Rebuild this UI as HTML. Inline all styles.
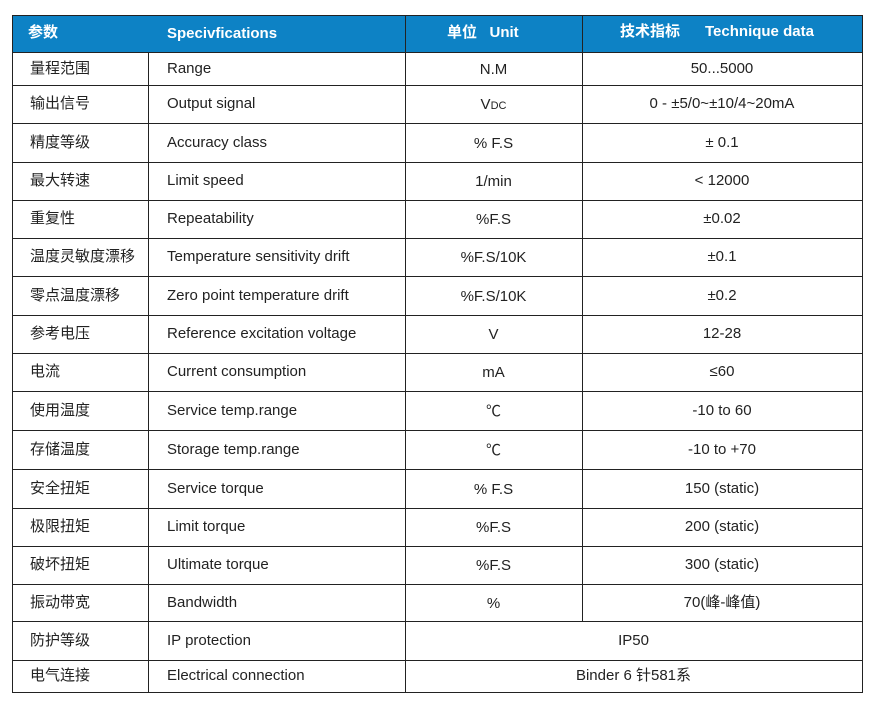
<!DOCTYPE html>
<html><head><meta charset="utf-8"><style>
body{margin:0;width:876px;height:702px;background:#fff;position:relative;font-family:"Liberation Sans","Noto Sans CJK SC",sans-serif;color:#222;font-size:15px;overflow:hidden}
.h{position:absolute;left:12px;top:15px;width:850px;height:37px;background:#0d82c5}
.l{position:absolute;background:#222}
.t{position:absolute;white-space:nowrap;line-height:20px}
.w{color:#fff;font-weight:bold}
.c{text-align:center}
</style></head><body>
<div class="h"></div>
<div id="g"></div>
<script>
var b=[52,85,123,162,200,238,276,315,353,391,430,469,508,546,584,621,660,692];
var rows=[["量程范围","Range","N.M","50...5000"],["输出信号","Output signal","V<span style='font-size:11px'>DC</span>","0 - ±5/0~±10/4~20mA"],["精度等级","Accuracy class","% F.S","± 0.1"],["最大转速","Limit speed","1/min","&lt; 12000"],["重复性","Repeatability","%F.S","±0.02"],["温度灵敏度漂移","Temperature sensitivity drift","%F.S/10K","±0.1"],["零点温度漂移","Zero point temperature drift","%F.S/10K","±0.2"],["参考电压","Reference excitation voltage","V","12-28"],["电流","Current consumption","mA","≤60"],["使用温度","Service temp.range","℃","-10 to 60"],["存储温度","Storage temp.range","℃","-10 to +70"],["安全扭矩","Service torque","% F.S","150 (static)"],["极限扭矩","Limit torque","%F.S","200 (static)"],["破坏扭矩","Ultimate torque","%F.S","300 (static)"],["振动带宽","Bandwidth","%","70(峰-峰值)"],["防护等级","IP protection","IP50"],["电气连接","Electrical connection","Binder 6 针581系"]];
var h="";
function L(x,y,w,hh){h+='<div class="l" style="left:'+x+'px;top:'+y+'px;width:'+w+'px;height:'+hh+'px"></div>';}
function T(x,y,s,cls,w){h+='<div class="t '+(cls||'')+'" style="left:'+x+'px;top:'+y+'px;'+(w?'width:'+w+'px;':'')+'">'+s+'</div>';}
L(12,15,851,1);L(12,15,1,678);L(862,15,1,678);L(405,15,1,678);
L(148,52,1,640);L(582,15,1,606);
for(var i=0;i<b.length;i++)L(12,b[i],851,1);
T(28,23,"参数","w");T(167,24,"Specivfications","w");T(447,23,"单位&nbsp;&nbsp;&nbsp;Unit","w");T(620,22,"技术指标&nbsp;&nbsp;&nbsp;&nbsp;&nbsp;&nbsp;Technique data","w");
for(var i=0;i<rows.length;i++){var r=rows[i],y=(b[i]+b[i+1])/2-10;
T(30,y,r[0]);T(167,y,r[1]);
if(r.length==4){T(405,y+1,r[2],"c",177);T(582,y,r[3],"c",280);}else{T(405,y,r[2],"c",457);}}
document.getElementById("g").innerHTML=h;
</script>
</body></html>
